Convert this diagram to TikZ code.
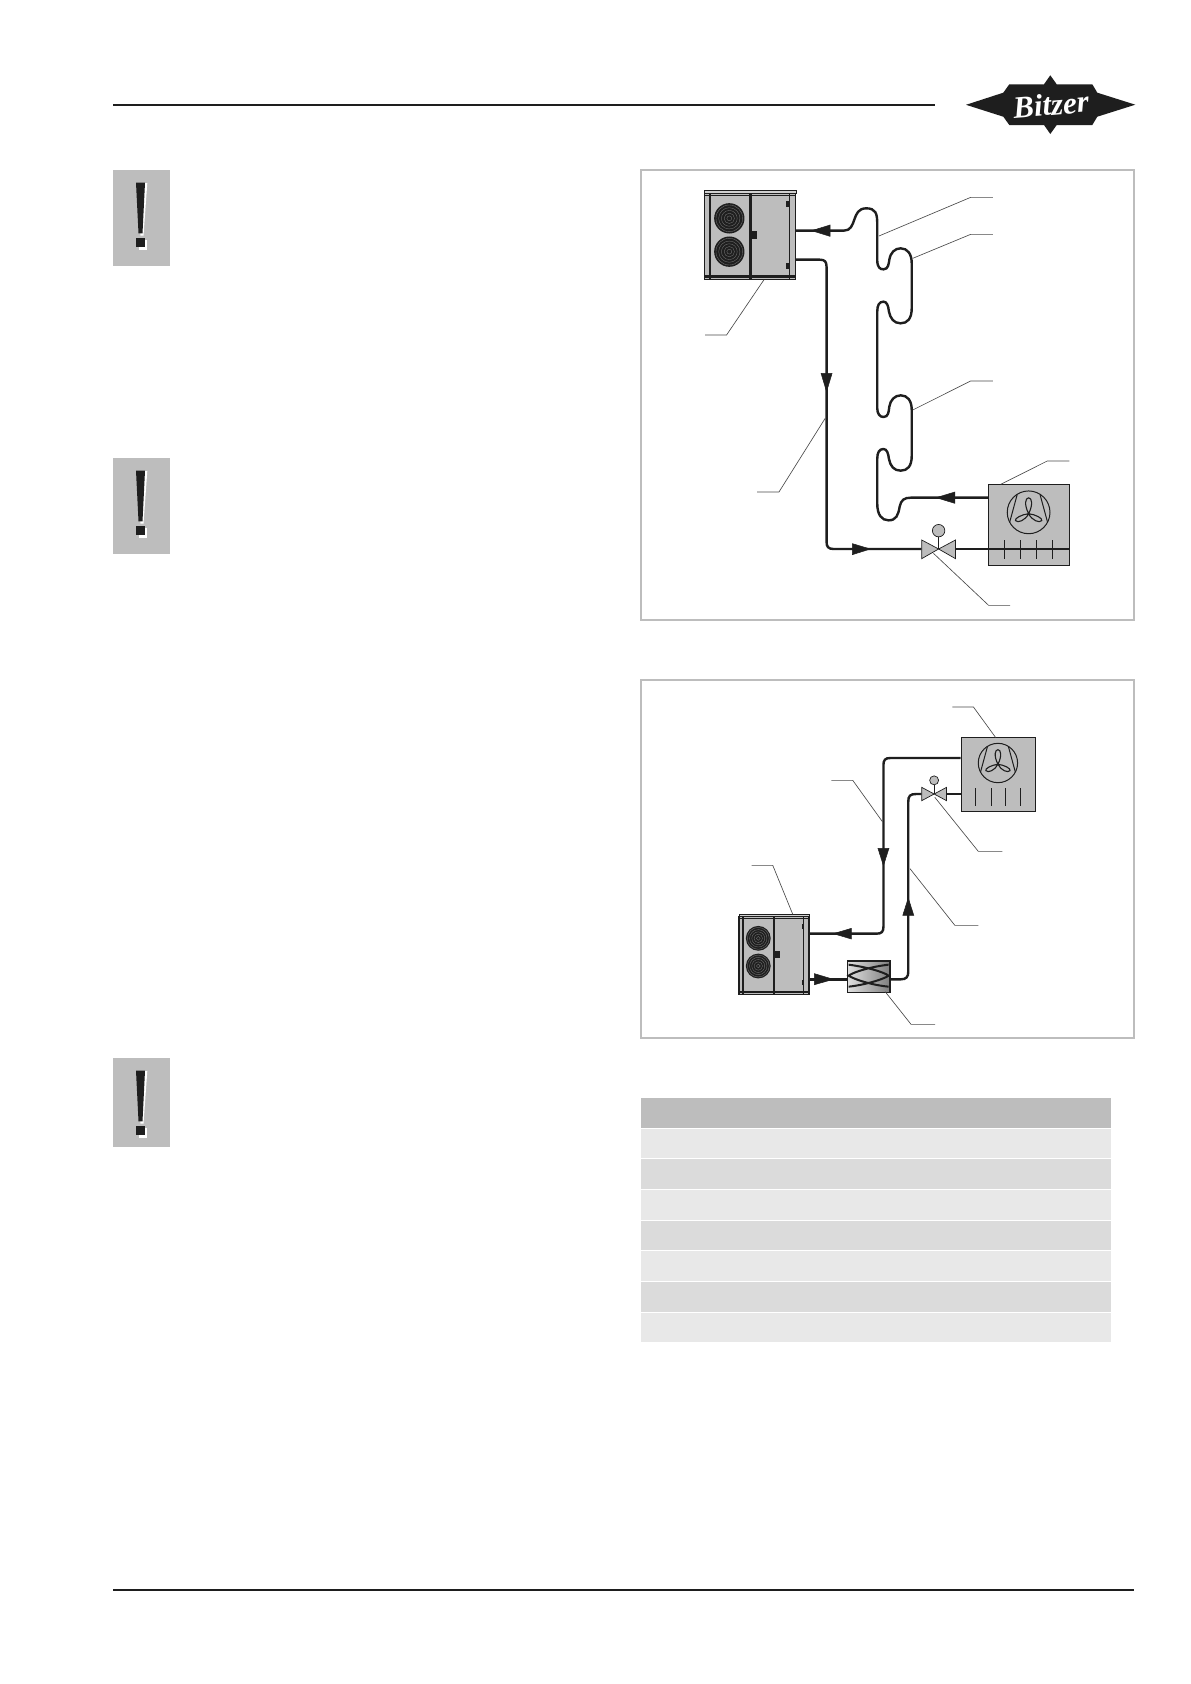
\documentclass[tikz,border=0pt]{standalone}
\usepackage{fontspec}
\setmainfont{Liberation Serif}
\definecolor{unitgrey}{HTML}{BDBDBD}
\definecolor{framegrey}{HTML}{BDBDBD}
\definecolor{pipeblack}{HTML}{1E1E1E}
\definecolor{leadgrey}{HTML}{4A4A4A}
\tikzset{
  framebox/.style={draw=framegrey,line width=2pt,fill=white},
  pipe/.style={draw=pipeblack,line width=2.4pt,rounded corners=0pt},
  lead/.style={draw=leadgrey,line width=0.65pt},
  unitbox/.style={draw=pipeblack,line width=1pt,fill=unitgrey},
  arrowhead/.style={fill=pipeblack,draw=pipeblack,line width=0.5pt,line join=miter},
  valvebody/.style={draw=pipeblack,line width=0.7pt,fill=unitgrey},
  warnbox/.style={fill=unitgrey,draw=none},
}
% warning box: #1 top y, #2 height
\newcommand{\warnsign}[2]{%
  \fill[warnbox] (113,#1) rectangle (170,#1+#2);
  \fill[white] (138.5,#1+13) -- (147.3,#1+13) -- (143.5,#1+65.5) -- (140.5,#1+65.5) -- cycle;
  \fill[white] (138.5,#1+70) rectangle (147.3,#1+79.5);
  \fill[pipeblack] (136,#1+12.7) -- (145,#1+12.7) -- (142.5,#1+63.3) -- (138.5,#1+63.3) -- cycle;
  \fill[pipeblack] (136,#1+67.7) rectangle (145,#1+76.7);
}
% fan grille: center x,y, radius in x units (kept round although the scope units differ)
\newcommand{\fangrille}[3]{%
  \fill[pipeblack] (#1,#2) circle[x radius=#3,y radius=#3*3/2.9];
  \foreach \rr in {0.88,0.7,0.52,0.34,0.16}{
    \draw[unitgrey!50!pipeblack,line width=0.4pt] (#1,#2) circle[x radius=\rr*#3,y radius=\rr*#3*3/2.9];
  }
}
% outdoor unit: corner, width, height
\newcommand{\condunit}[4]{%
  \begin{scope}[shift={(#1,#2)},x={(#3/100*1pt/2.9,0)},y={(0,-#4/100*1pt/3)}]
    \fill[unitgrey] (0,0) rectangle (100,100);
    \draw[pipeblack,line width=0.5pt,fill=unitgrey!70!white] (0,0) rectangle (100,3);
    \draw[pipeblack,line width=1.2pt] (0,3) rectangle (100,100);
    \fill[pipeblack] (4.4,3) rectangle (7.5,100);
    \fill[pipeblack] (48.5,3) rectangle (52,100);
    \fill[pipeblack] (0,95.5) rectangle (100,98.5);
    \fill[pipeblack] (51,46) rectangle (58,54);
    \fill[pipeblack] (92,3) rectangle (93.5,100);
    \fill[pipeblack] (92,12) rectangle (89.5,18);
    \fill[pipeblack] (92,82) rectangle (89.5,88);
    \draw[pipeblack,line width=0.3pt] (0,5) -- (100,5);
  \end{scope}%
}
% indoor unit fan symbol; units here are made square
\newcommand{\evapfan}[3]{%
  \begin{scope}[shift={(#1,#2)},x=#3*1pt/2.9,y=-#3*1pt/2.9]
    \draw[pipeblack,line width=1pt] (0,0) circle[radius=62];
    \draw[pipeblack,line width=1pt] (-55,29) -- (-33,-52) (55,29) -- (33,-52);
    \draw[pipeblack,line width=1.1pt,fill=unitgrey]
      (0,4) .. controls (-14,-24) and (-9,-42) .. (0,-42) .. controls (9,-42) and (14,-24) .. (0,4)
      .. controls (-20,6) and (-42,18) .. (-38,24) .. controls (-32,32) and (-10,24) .. (0,4)
      .. controls (20,6) and (42,18) .. (38,24) .. controls (32,32) and (10,24) .. (0,4);
  \end{scope}%
}
\begin{document}
\begin{tikzpicture}[x=1pt,y=-1pt]
\useasboundingbox (0,0) rectangle (1191,1684);
\fill[white] (0,0) rectangle (1191,1684);

% header and footer rules
\coordinate (hdrL) at (113,104.8);
\coordinate (hdrR) at (935,104.8);
\draw[pipeblack,line width=2pt] (hdrL) -- (hdrR);
\coordinate (ftrL) at (113,1590);
\coordinate (ftrR) at (1134,1590);
\draw[pipeblack,line width=2pt] (ftrL) -- (ftrR);

% logo
\fill[pipeblack] (966,104.8) -- (1003.3,92.7) -- (1009.3,84.3) -- (1044,84.3) -- (1050.3,75.3)
  -- (1056.7,84.3) -- (1092.3,84.3) -- (1097.3,92.7) -- (1135.3,104.7) -- (1097.3,116.7)
  -- (1092.3,125) -- (1056.7,125) -- (1050.3,134) -- (1044,125) -- (1009.3,125) -- (1003.3,116.7) -- cycle;
\node[text=white,inner sep=0pt,rotate=5,font=\itshape\bfseries\fontsize{31}{31}\selectfont] (logotext) at (1051,104.5) {Bitzer};

% warnings
\warnsign{170}{96}
\warnsign{458}{96}
\warnsign{1058}{88.7}

% table
\fill[unitgrey] (641,1098) rectangle (1111,1128);
\fill[black!9] (641,1128.8) rectangle (1111,1158.3);
\fill[black!14] (641,1159.2) rectangle (1111,1189);
\fill[black!9] (641,1189.8) rectangle (1111,1220);
\fill[black!14] (641,1221) rectangle (1111,1250);
\fill[black!9] (641,1250.8) rectangle (1111,1281);
\fill[black!14] (641,1282) rectangle (1111,1311.7);
\fill[black!9] (641,1312.7) rectangle (1111,1341.7);

% ---------- upper diagram ----------
\begin{scope}[shift={(630,160)},x=1pt/2.9,y=-1pt/3]
  \draw[framebox] (32,30) rectangle (1463,1380);
  \condunit{216}{92}{265}{266}
  \fangrille{288}{175}{44}
  \fangrille{288}{275}{44}
  \node[unitbox,minimum width=236pt/2.9,minimum height=243pt/3,inner sep=0pt,anchor=north west] (evapA) at (1038,973) {};
  \evapfan{1156}{1057}{1}
  \foreach \tx in {1087,1133,1180,1226}{\draw[pipeblack,line width=0.8pt] (\tx,1140) -- (\tx,1197);}
  % gas line
  \draw[pipe] (481,212) -- (620,212) .. controls (660,212) and (640,145) .. (685,145)
    .. controls (712,145) and (717,160) .. (717,190) -- (717,300)
    .. controls (717,322) and (725,328) .. (735,328) .. controls (750,328) and (750,310) .. (752,300)
    .. controls (755,278) and (768,265) .. (785,265) .. controls (805,265) and (817,282) .. (817,310)
    -- (817,445) .. controls (817,475) and (805,490) .. (785,490) .. controls (765,490) and (755,475) .. (751,455)
    .. controls (749,437) and (745,425) .. (735,425) .. controls (723,425) and (717,435) .. (717,455)
    -- (717,745) .. controls (717,762) and (725,771) .. (735,771) .. controls (750,771) and (750,755) .. (752,740)
    .. controls (755,720) and (768,706) .. (785,706) .. controls (805,706) and (817,722) .. (817,750)
    -- (817,888) .. controls (817,918) and (805,932) .. (785,932) .. controls (765,932) and (755,918) .. (751,897)
    .. controls (749,880) and (745,867) .. (735,867) .. controls (723,867) and (717,877) .. (717,897)
    -- (717,1030) .. controls (717,1065) and (730,1081) .. (750,1081) .. controls (772,1081) and (778,1065) .. (782,1040)
    .. controls (786,1020) and (795,1013) .. (815,1013) -- (1038,1013);
  \draw[arrowhead] (527,212) -- (580,195) -- (580,229) -- cycle;
  \draw[arrowhead] (888,1013) -- (942,996) -- (942,1030) -- cycle;
  % liquid line
  \draw[pipe] (481,299) -- (550,299) .. controls (565,299) and (570,305) .. (570,320)
    -- (570,1145) .. controls (570,1160) and (575,1167) .. (590,1167) -- (846,1167);
  \draw[pipe] (944,1167) -- (1275,1167);
  \draw[arrowhead] (570,695) -- (554,640) -- (586,640) -- cycle;
  \draw[arrowhead] (697,1167) -- (645,1151) -- (645,1184) -- cycle;
  % valve
  \draw[valvebody] (846,1140) -- (895,1167) -- (846,1196) -- cycle;
  \draw[valvebody] (944,1140) -- (895,1167) -- (944,1196) -- cycle;
  \draw[valvebody] (895,1167) -- (895,1128);
  \node[valvebody,circle,minimum size=36pt/2.9,inner sep=0pt] (valveA) at (895,1112) {};
  % leader lines
  \draw[lead] (722,228) -- (988,112) -- (1052,112);
  \draw[lead] (820,295) -- (988,223) -- (1052,223);
  \draw[lead] (820,750) -- (988,663) -- (1052,663);
  \draw[lead] (1075,973) -- (1210,903) -- (1274,903);
  \draw[lead] (880,1180) -- (1040,1336) -- (1102,1336);
  \draw[lead] (388,360) -- (280,525) -- (218,525);
  \draw[lead] (566,775) -- (432,996) -- (369,996);
\end{scope}

% ---------- lower diagram ----------
\begin{scope}[shift={(630,670)},x=1pt/2.9,y=-1pt/3]
  \draw[framebox] (32,30) rectangle (1463,1104);
  \condunit{316}{733}{203}{240}
  \fangrille{372}{805}{36}
  \fangrille{372}{888}{36}
  \node[unitbox,minimum width=216pt/2.9,minimum height=222pt/3,inner sep=0pt,anchor=north west] (evapB) at (959,202) {};
  \evapfan{1067}{279}{0.92}
  \foreach \tx in {1003,1047,1090,1133}{\draw[pipeblack,line width=0.8pt] (\tx,355) -- (\tx,407);}
  % heat exchanger
  \node[draw=pipeblack,line width=1.2pt,left color=black!12,right color=black!50,minimum width=124pt/2.9,minimum height=94pt/3,inner sep=0pt,anchor=north west] (hx) at (628,871) {};
  \draw[pipeblack,line width=2pt] (634,884) .. controls (680,890) and (735,905) .. (750,917)
    .. controls (735,928) and (680,945) .. (634,950)
    (750,884) .. controls (700,890) and (650,905) .. (634,917)
    .. controls (650,928) and (700,945) .. (750,950);
  % gas
  \draw[pipe] (959,264) -- (755,264) .. controls (740,264) and (735,270) .. (735,285)
    -- (735,770) .. controls (735,785) and (730,791) .. (715,791) -- (519,791);
  \draw[arrowhead] (735,587) -- (719,535) -- (751,535) -- cycle;
  \draw[arrowhead] (590,791) -- (642,775) -- (642,807) -- cycle;
  % liquid
  \draw[pipe] (519,928) -- (628,928);
  \draw[arrowhead] (590,928) -- (535,911) -- (535,944) -- cycle;
  \draw[pipe] (754,928) -- (785,928) .. controls (802,928) and (807,920) .. (807,905)
    -- (807,395) .. controls (807,378) and (812,372) .. (830,372) -- (846,372);
  \draw[pipe] (918,372) -- (959,372);
  \draw[arrowhead] (807,684) -- (791,736) -- (823,736) -- cycle;
  % valve
  \draw[valvebody] (846,352) -- (882,372) -- (846,392) -- cycle;
  \draw[valvebody] (918,352) -- (882,372) -- (918,392) -- cycle;
  \draw[valvebody] (882,372) -- (882,344);
  \node[valvebody,circle,minimum size=26pt/2.9,inner sep=0pt] (valveB) at (882,331) {};
  % leaders
  \draw[lead] (935,111) -- (996,111) -- (1060,202);
  \draw[lead] (584,331) -- (646,331) -- (732,455);
  \draw[lead] (1080,544) -- (1010,544) -- (884,382);
  \draw[lead] (1010,766) -- (942,766) -- (812,596);
  \draw[lead] (885,1063) -- (815,1063) -- (740,965);
  \draw[lead] (353,586) -- (414,586) -- (472,733);
\end{scope}
\end{tikzpicture}
\end{document}
